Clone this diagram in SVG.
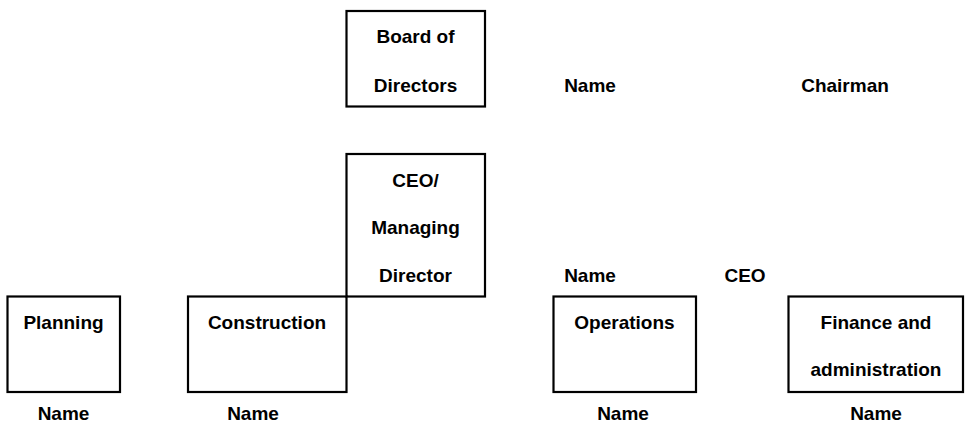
<svg xmlns="http://www.w3.org/2000/svg" width="965" height="425" viewBox="0 0 965 425">
<style>
.box{fill:none;stroke:#000;stroke-width:2.2}
text{font-family:"Liberation Sans",Arial,sans-serif;font-weight:bold;font-size:19px;fill:#000;text-anchor:middle}
</style>
<rect width="965" height="425" fill="#fff"/>
<g id="connectors"></g>
<g id="board">
<rect class="box" x="346.5" y="11" width="138.5" height="95.5"/>
<text x="415.5" y="43">Board of</text>
<text x="415.5" y="92">Directors</text>
</g>
<g id="chairman">
<text x="590" y="92">Name</text>
<text x="845" y="92">Chairman</text>
</g>
<g id="ceo">
<rect class="box" x="346.5" y="154" width="138.5" height="142.5"/>
<text x="415.5" y="187">CEO/</text>
<text x="415.5" y="234">Managing</text>
<text x="415.5" y="282">Director</text>
</g>
<g id="ceo-name">
<text x="590" y="282">Name</text>
<text x="745" y="282">CEO</text>
</g>
<g id="planning">
<rect class="box" x="7.5" y="296.5" width="112.5" height="95.5"/>
<text x="63.5" y="329">Planning</text>
<text x="63.5" y="420">Name</text>
</g>
<g id="construction">
<rect class="box" x="188" y="296.5" width="158.5" height="95.5"/>
<text x="267" y="329">Construction</text>
<text x="253" y="420">Name</text>
</g>
<g id="operations">
<rect class="box" x="553.5" y="296.5" width="142.5" height="95.5"/>
<text x="624.5" y="329">Operations</text>
<text x="623" y="420">Name</text>
</g>
<g id="finance">
<rect class="box" x="788.5" y="296.5" width="174.5" height="95.5"/>
<text x="876" y="329">Finance and</text>
<text x="876" y="376">administration</text>
<text x="876" y="420">Name</text>
</g>
</svg>
